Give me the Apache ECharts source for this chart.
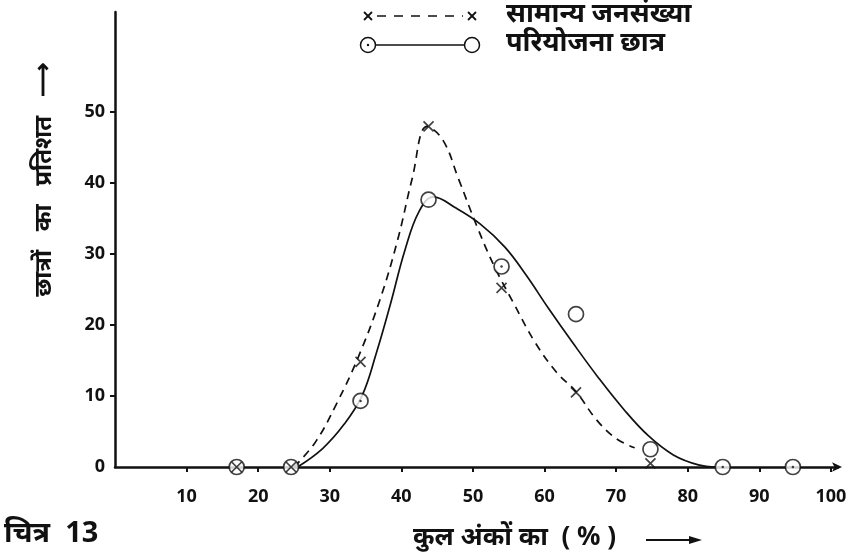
<!DOCTYPE html>
<html><head><meta charset="utf-8">
<script src="https://cdn.jsdelivr.net/npm/echarts@6/dist/echarts.min.js"></script>
<style>html,body{margin:0;padding:0;background:#fff}#c{width:868px;height:557px}</style>
</head><body><div id="c"></div>
<script>
// observed points (x = marks %, y = % of students)
var pointX = [17, 24.6, 34.3, 43.8, 54, 64.4, 74.8, 84.9, 94.7];
var generalY = [0, 0, 14.8, 47.9, 25.2, 10.5, 0.5];           // सामान्य जनसंख्या (x markers)
var projectY = [0, 0, 9.3, 37.6, 28.2, 21.5, 2.5, 0, 0];       // परियोजना छात्र (circles)
var dottedIdx = [2, 4, 7, 8];                                   // circles drawn with centre dot
// hand-fitted curves
var dashCurveX = [25, 28, 31, 34, 37, 39.5, 41.5, 43.6, 45.8, 48, 50.5, 53, 55.6, 58.7, 61.7, 64.4, 67.3, 70, 72.6];
var dashCurveY = [0, 3.5, 9, 15.5, 23.5, 32, 40.5, 47.9, 46, 40.5, 34, 28.2, 23.2, 17.5, 13.3, 10.6, 6.6, 4, 2.7];
var solidCurveX = [25.5, 29, 32, 34.5, 36.5, 38.5, 40.5, 42.5, 44.5, 47.5, 51, 54.5, 57.5, 60.5, 64, 67.5, 71, 74.5, 78, 81.5, 84];
var solidCurveY = [0, 2.6, 6, 10, 16, 23, 30.5, 36, 38, 36.5, 34.2, 30.9, 26.9, 22.4, 17.4, 12.6, 8.2, 4.4, 1.7, 0.3, 0];
var xTicks = [10, 20, 30, 40, 50, 60, 70, 80, 90, 100];
var yTicks = [0, 10, 20, 30, 40, 50];

var legendNames = ['सामान्य जनसंख्या', 'परियोजना छात्र'];
var yTitle = 'छात्रों   का   प्रतिशत   ⟶';
var xTitle = 'कुल अंकों का  ( % )';
var figTitle = 'चित्र  13';

function pairs(xs, ys) { return ys.map(function (y, i) { return [xs[i], y]; }); }
var crossPath = 'path://M0,0L10,10M10,0L0,10';
var font = '"Noto Sans", "Open Sans", sans-serif';
function cross(cx, cy) {
  return [
    { type: 'line', shape: { x1: cx - 4, y1: cy - 4, x2: cx + 4, y2: cy + 4 }, style: { stroke: '#111', lineWidth: 1.8 } },
    { type: 'line', shape: { x1: cx + 4, y1: cy - 4, x2: cx - 4, y2: cy + 4 }, style: { stroke: '#111', lineWidth: 1.8 } }
  ];
}

var graphics = [
  { type: 'text', x: 4, y: 534, style: { text: figTitle, font: 'bold 29px ' + font, fill: '#111', verticalAlign: 'middle' } },
  { type: 'text', x: 413, y: 538, style: { text: xTitle, font: 'bold 26px ' + font, fill: '#111', verticalAlign: 'middle' } },
  { type: 'line', shape: { x1: 646, y1: 540, x2: 696, y2: 540 }, style: { stroke: '#111', lineWidth: 1.8 } },
  { type: 'polygon', shape: { points: [[702, 540], [689, 536], [689, 544]] }, style: { fill: '#111' } },
  { type: 'text', x: 44, y: 180, rotation: Math.PI / 2, style: { text: yTitle, font: 'bold 24px ' + font, fill: '#111', align: 'center', verticalAlign: 'middle' } },
  { type: 'line', shape: { x1: 377, y1: 16, x2: 463, y2: 16 }, style: { stroke: '#111', lineWidth: 1.5, lineDash: [9, 8] } },
  { type: 'text', x: 506, y: 14, style: { text: legendNames[0], font: 'bold 27px ' + font, fill: '#111', verticalAlign: 'middle' } },
  { type: 'line', shape: { x1: 376, y1: 45, x2: 464, y2: 45 }, style: { stroke: '#111', lineWidth: 1.5 } },
  { type: 'circle', shape: { cx: 368, cy: 45, r: 7.5 }, style: { stroke: '#111', lineWidth: 1.5, fill: '#fff' } },
  { type: 'circle', shape: { cx: 368, cy: 45, r: 1.2 }, style: { fill: '#111' } },
  { type: 'circle', shape: { cx: 472, cy: 45, r: 7.5 }, style: { stroke: '#111', lineWidth: 1.5, fill: '#fff' } },
  { type: 'text', x: 506, y: 43, style: { text: legendNames[1], font: 'bold 27px ' + font, fill: '#111', verticalAlign: 'middle' } }
].concat(cross(368, 16), cross(472, 16));

var chart = echarts.init(document.getElementById('c'));
chart.setOption({
  animation: false,
  backgroundColor: '#fff',
  grid: { left: 115, right: 30, top: 12, bottom: 90 },
  xAxis: {
    type: 'value', min: 0, max: 101,
    axisLine: { lineStyle: { color: '#111', width: 2.5 }, symbol: ['none', 'arrow'], symbolSize: [7, 10], symbolOffset: [0, 4] },
    axisTick: { show: true, length: 5, lineStyle: { color: '#111', width: 2 }, customValues: xTicks },
    axisLabel: { customValues: xTicks, margin: 21, color: '#111', fontSize: 18, fontWeight: 'bold', fontFamily: '"Open Sans", sans-serif' },
    splitLine: { show: false }
  },
  yAxis: {
    type: 'value', min: 0, max: 64,
    axisLine: { show: true, lineStyle: { color: '#111', width: 2.5 } },
    axisTick: { show: true, length: 5, lineStyle: { color: '#111', width: 2 }, customValues: yTicks.slice(1) },
    axisLabel: { customValues: yTicks, margin: 10, color: '#111', fontSize: 18, fontWeight: 'bold', fontFamily: '"Open Sans", sans-serif' },
    splitLine: { show: false }
  },
  graphic: graphics,
  series: [
    { name: legendNames[0] + ' curve', type: 'line', smooth: 0.4, symbol: 'none', data: pairs(dashCurveX, dashCurveY),
      lineStyle: { color: '#111', width: 1.7, type: [8, 6] }, z: 2 },
    { name: legendNames[1] + ' curve', type: 'line', smooth: 0.4, symbol: 'none', data: pairs(solidCurveX, solidCurveY),
      lineStyle: { color: '#111', width: 1.7 }, z: 2 },
    { name: legendNames[1], type: 'scatter', symbol: 'circle', symbolSize: 15, data: pairs(pointX, projectY),
      itemStyle: { color: '#fff', borderColor: '#111', borderWidth: 1.7 }, z: 3 },
    { name: 'dots', type: 'scatter', symbol: 'circle', symbolSize: 2.5,
      data: dottedIdx.map(function (i) { return [pointX[i], projectY[i]]; }),
      itemStyle: { color: '#111' }, z: 4 },
    { name: legendNames[0], type: 'scatter', symbol: crossPath, symbolSize: 10, data: pairs(pointX, generalY),
      itemStyle: { color: 'none', borderColor: '#111', borderWidth: 1.7 }, z: 5 }
  ]
});
</script></body></html>
